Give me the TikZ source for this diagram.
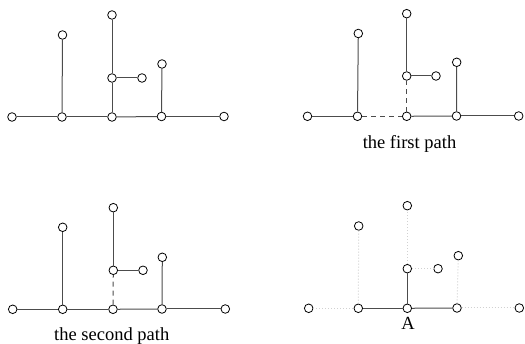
\documentclass[tikz,border=0pt]{standalone}
\usepackage{fontspec}
\setmainfont{Liberation Serif}
\tikzset{
  vtx/.style={circle,draw=black,fill=white,line width=0.8pt,minimum size=8.6pt,inner sep=0pt},
  edge/.style={draw=black!70,line width=1pt},
  dash edge/.style={draw=black!70,line width=1pt,dash pattern=on 5pt off 4pt},
  faint/.style={draw=black!18,line width=1pt,dash pattern=on 1pt off 2pt},
  lbl/.style={font=\fontsize{18.5}{20}\selectfont,anchor=base,inner sep=0pt}
}
\begin{document}
\begin{tikzpicture}[x=1pt,y=1pt]
\useasboundingbox (0,0) rectangle (525,344);
% ---------- panel 1 ----------
\node[vtx] (a1) at (12,227) {};
\node[vtx] (a2) at (62,227) {};
\node[vtx] (a3) at (112,227) {};
\node[vtx] (a4) at (161.5,227.5) {};
\node[vtx] (a5) at (224,227.5) {};
\node[vtx] (a6) at (62.5,309) {};
\node[vtx] (a7) at (112,329) {};
\node[vtx] (a8) at (112,266) {};
\node[vtx] (a9) at (142,266) {};
\node[vtx] (a10) at (162,280) {};
\draw[edge] (a1) -- (a2);
\draw[edge] (a2) -- (a3);
\draw[edge] (a3) -- (a4);
\draw[edge] (a4) -- (a5);
\draw[edge] (a2) -- (a6);
\draw[edge] (a3) -- (a8);
\draw[edge] (a8) -- (a7);
\draw[edge] (a8) -- (a9);
\draw[edge] (a4) -- (a10);
% ---------- panel 2 ----------
\node[vtx] (b1) at (307.5,227.7) {};
\node[vtx] (b2) at (357.5,227.7) {};
\node[vtx] (b3) at (406.7,227.7) {};
\node[vtx] (b4) at (456.5,228) {};
\node[vtx] (b5) at (518.7,228) {};
\node[vtx] (b6) at (358.3,310.5) {};
\node[vtx] (b7) at (406.7,330.3) {};
\node[vtx] (b8) at (406.7,268) {};
\node[vtx] (b9) at (436,268) {};
\node[vtx] (b10) at (456.7,281.7) {};
\draw[edge] (b1) -- (b2);
\draw[dash edge] (b2) -- (b3);
\draw[edge] (b3) -- (b4);
\draw[edge] (b4) -- (b5);
\draw[edge] (b2) -- (b6);
\draw[dash edge] (b3) -- (b8);
\draw[edge] (b8) -- (b7);
\draw[edge] (b8) -- (b9);
\draw[edge] (b4) -- (b10);
\node[lbl] (t1) at (409.5,195) {the first path};
% ---------- panel 3 ----------
\node[vtx] (c1) at (12.7,34.7) {};
\node[vtx] (c2) at (62.7,34.7) {};
\node[vtx] (c3) at (113,34.7) {};
\node[vtx] (c4) at (162,35) {};
\node[vtx] (c5) at (225.3,35) {};
\node[vtx] (c6) at (62.7,116.7) {};
\node[vtx] (c7) at (113.3,136.3) {};
\node[vtx] (c8) at (113.3,73.7) {};
\node[vtx] (c9) at (143,73.7) {};
\node[vtx] (c10) at (162.3,86.7) {};
\draw[edge] (c1) -- (c2);
\draw[edge] (c2) -- (c3);
\draw[edge] (c3) -- (c4);
\draw[edge] (c4) -- (c5);
\draw[edge] (c2) -- (c6);
\draw[dash edge] (c3) -- (c8);
\draw[edge] (c8) -- (c7);
\draw[edge] (c8) -- (c9);
\draw[edge] (c4) -- (c10);
\node[lbl] (t2) at (111.7,3) {the second path};
% ---------- panel 4 ----------
\node[vtx] (d1) at (308.7,35.7) {};
\node[vtx] (d2) at (358.3,35.7) {};
\node[vtx] (d3) at (407.3,35.7) {};
\node[vtx] (d4) at (457,36) {};
\node[vtx] (d5) at (519.3,36) {};
\node[vtx] (d6) at (358.7,118) {};
\node[vtx] (d7) at (407.3,138.3) {};
\node[vtx] (d8) at (407.3,75.3) {};
\node[vtx] (d9) at (438,75.3) {};
\node[vtx] (d10) at (458.3,88.3) {};
\draw[faint] (d1) -- (d2);
\draw[edge] (d2) -- (d3);
\draw[edge] (d3) -- (d4);
\draw[faint] (d4) -- (d5);
\draw[faint] (d2) -- (d6);
\draw[edge] (d3) -- (d8);
\draw[faint] (d8) -- (d7);
\draw[faint] (d8) -- (d9);
\draw[faint] (d4) -- (d10);
\node[lbl] (tA) at (408,14) {A};
\end{tikzpicture}
\end{document}
